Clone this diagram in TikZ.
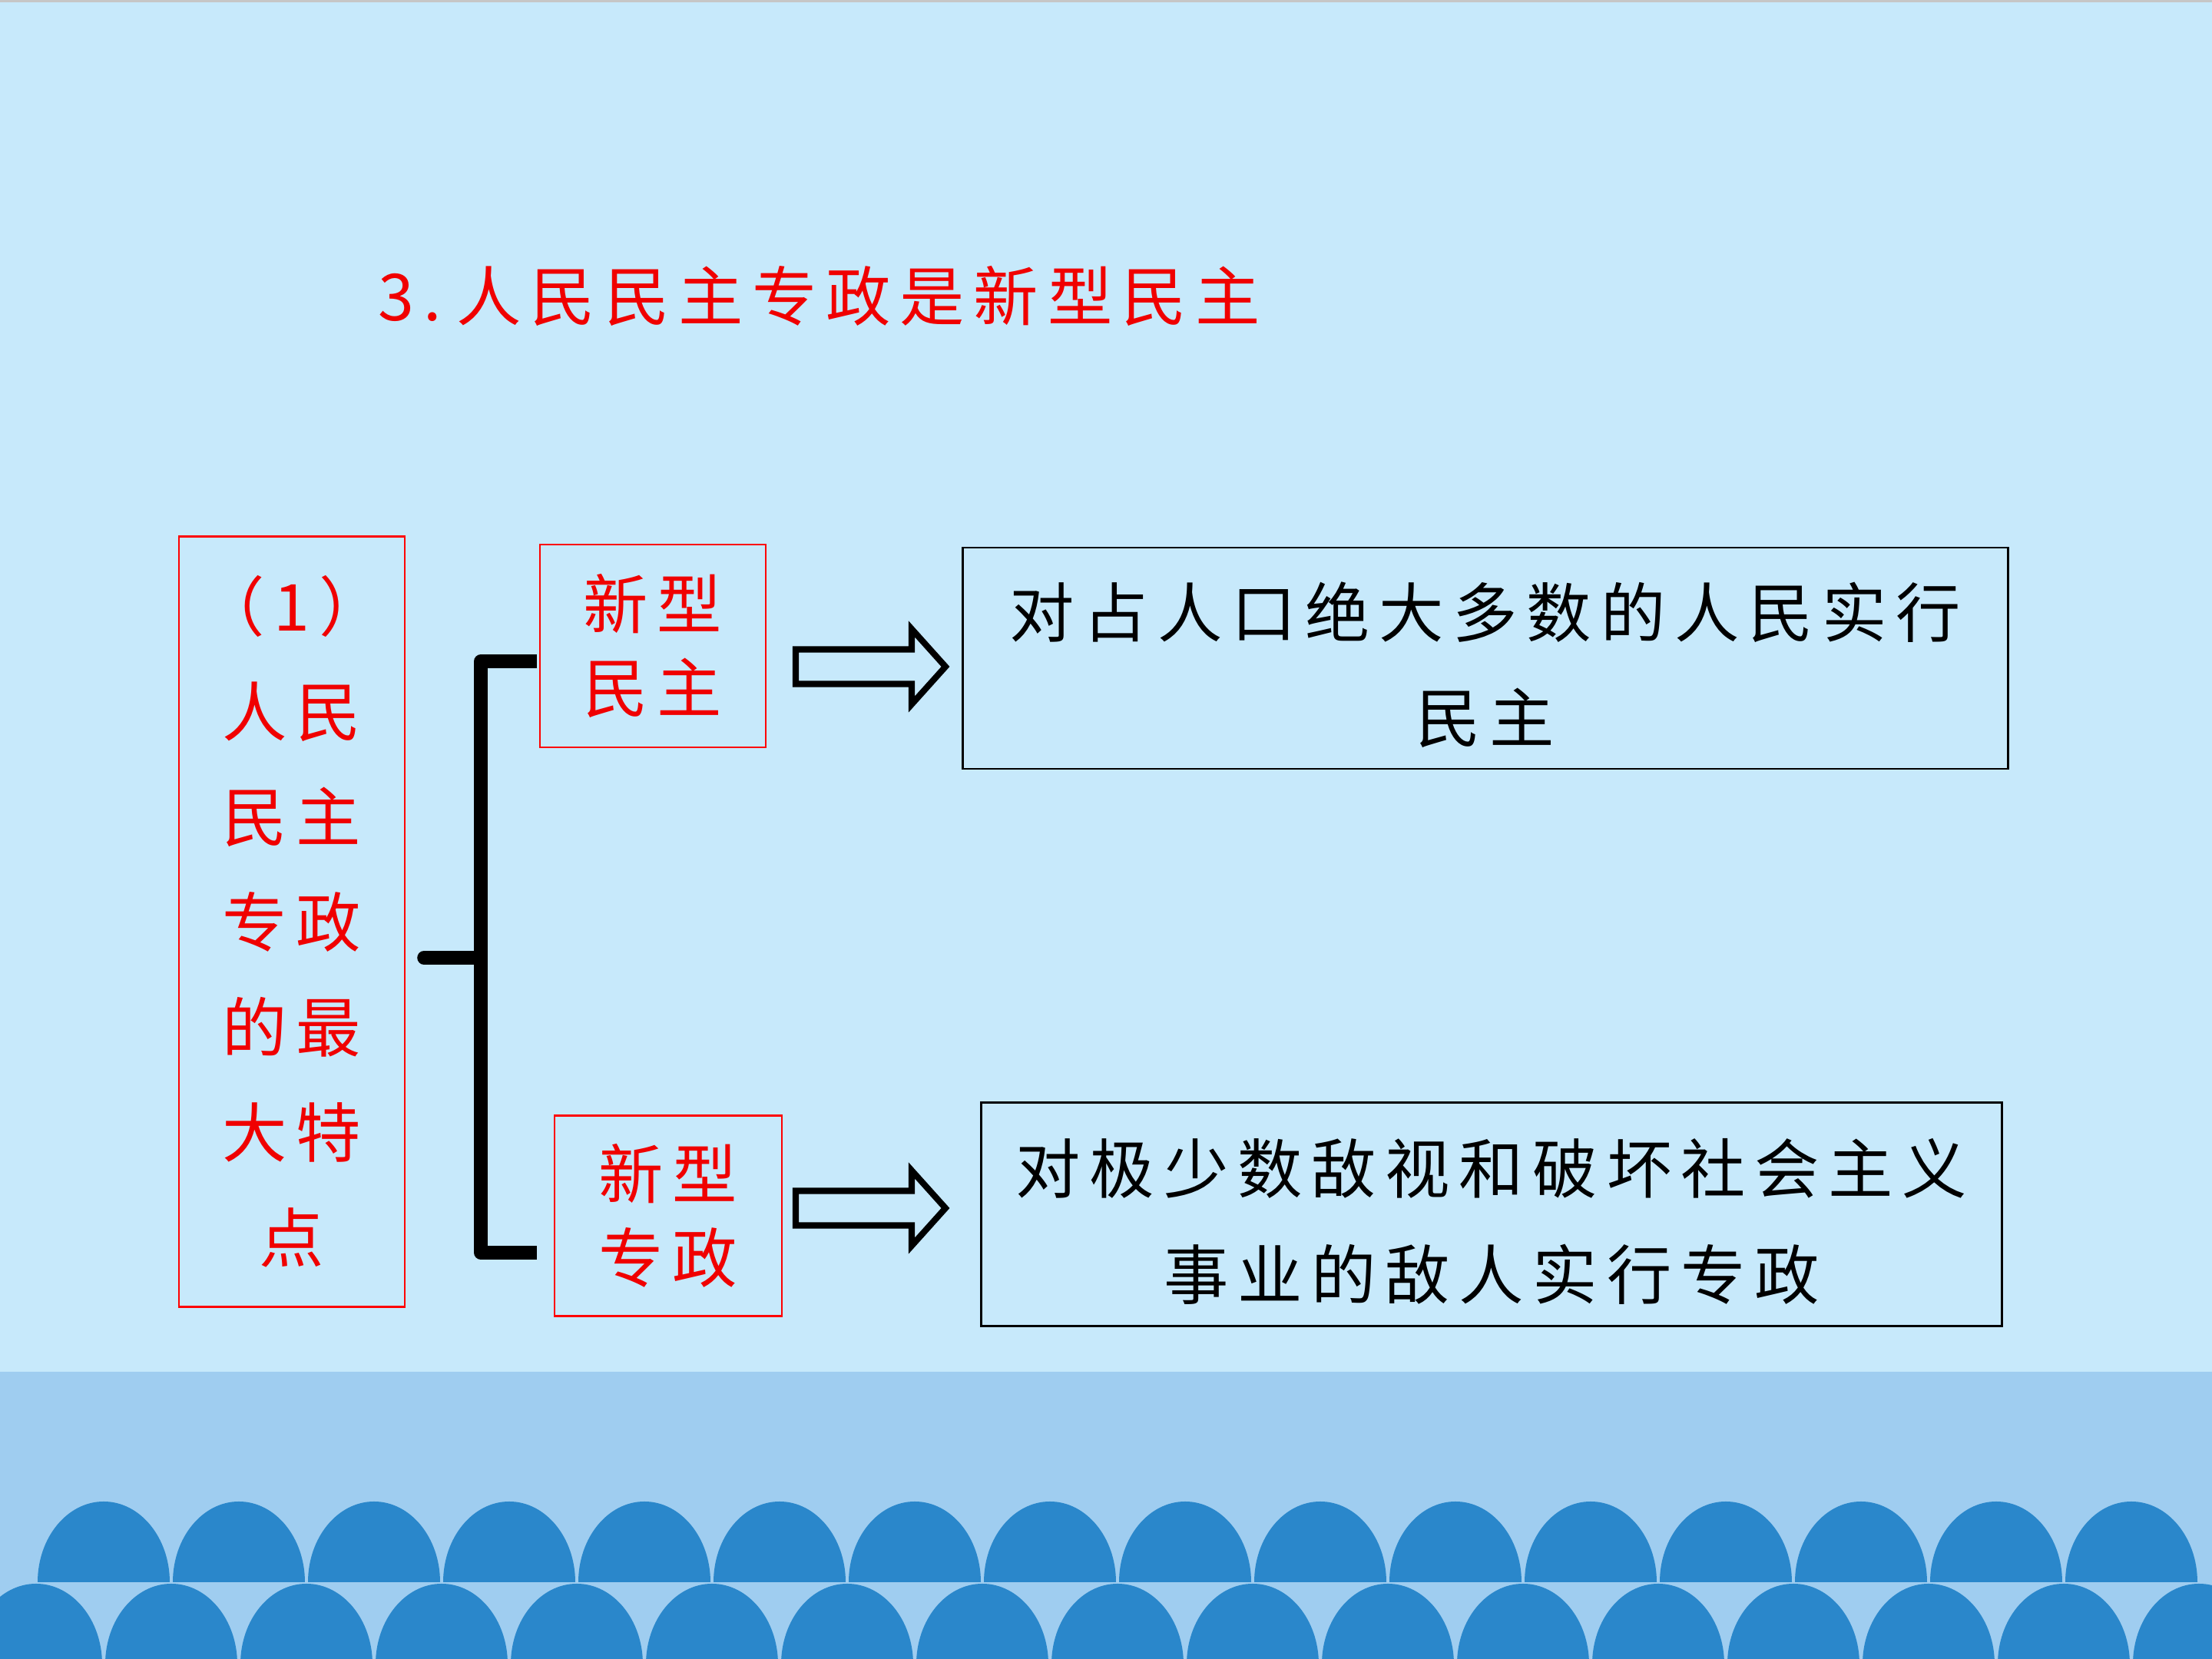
\documentclass[tikz,border=0pt]{standalone}
\usepackage{fontspec}
\newfontfamily\cjk{Noto Sans CJK SC}[LetterSpace=14]

\definecolor{bg_blue}{HTML}{C7E9FB}
\definecolor{band_blue}{HTML}{9FCDF0}
\definecolor{wave_blue}{HTML}{2A87CB}
\definecolor{title_red}{HTML}{F00000}

\begin{document}
\begin{tikzpicture}[
    kai_font/.style={font=\cjk\fontsize{24}{39}\selectfont},
    mid_font/.style={font=\cjk\fontsize{24}{31}\selectfont},
    red_box/.style={draw=red, line width=0.8pt, text=title_red, align=center, inner sep=0pt},
    black_box/.style={draw=black, line width=0.8pt, align=center, inner sep=0pt},
    brace_style/.style={line width=5pt, line join=round},
    stub_style/.style={line width=5pt, line cap=round},
    fat_arrow/.style={draw=black, line width=2.3pt, line join=miter}
  ]
  \useasboundingbox (0,0) rectangle (28.8,21.6);
  % background and waves
  \fill[bg_blue] (0,0) rectangle (28.8,21.6);
  \fill[gray!45] (0,21.57) rectangle (28.8,21.6);
  \fill[band_blue] (0,0) rectangle (28.8,3.74);
  \begin{scope}
    \clip (0,0) rectangle (28.8,21.6);
    \foreach \i in {0,...,15}
      \fill[wave_blue] (0.49+1.76*\i,1.00) arc[start angle=180, end angle=0, x radius=0.86, y radius=1.05] -- cycle;
    \foreach \i in {0,...,16}
      \fill[wave_blue] (-0.39+1.76*\i,-0.07) arc[start angle=180, end angle=0, x radius=0.86, y radius=1.05] -- cycle;
  \end{scope}

  \node[kai_font, text=title_red, anchor=west, inner sep=0pt] (title) at (4.92,17.74) {3.\kern0.2cm 人民民主专政是新型民主};

  \node[red_box, kai_font, minimum width=2.94cm, minimum height=10.03cm] (lbox) at (3.80,9.60)
    {（1）\\人民\\民主\\专政\\的最\\大特\\点};
  % Operations
  \node[red_box, mid_font, minimum width=2.94cm, minimum height=2.64cm] (nm) at (8.50,13.19) {新型\\民主};
  \node[red_box, mid_font, minimum width=2.96cm, minimum height=2.61cm] (nz) at (8.70,5.77) {新型\\专政};
  \node[black_box, kai_font, minimum width=13.61cm, minimum height=2.88cm] (rt) at (19.34,13.03)
    {\rule{0pt}{0.9cm}对占人口绝大多数的人民实行\\民主};
  \node[black_box, kai_font, minimum width=13.29cm, minimum height=2.91cm] (rb) at (19.42,5.79)
    {\rule{0pt}{0.9cm}对极少数敌视和破坏社会主义\\事业的敌人实行专政};

  % bracket
  \coordinate (btop) at (6.99,12.99);
  \coordinate (bbot) at (6.99,5.29);
  \coordinate (bmid) at (6.26,9.13);
  \coordinate (stub) at (5.52,9.13);
  \draw[brace_style] (btop) -| (bmid) |- (bbot);
  \draw[stub_style] (stub) -- (bmid);

  % block arrows
  \coordinate (a1) at (10.36,12.92);
  \coordinate (a2) at (10.36,5.87);
  \draw[fat_arrow] (a1) ++(0,0.225) -- ++(1.51,0) -- ++(0,0.265) -- ++(0.44,-0.49) -- ++(-0.44,-0.49) -- ++(0,0.265) -- ++(-1.51,0) -- cycle;
  \draw[fat_arrow] (a2) ++(0,0.225) -- ++(1.51,0) -- ++(0,0.265) -- ++(0.44,-0.49) -- ++(-0.44,-0.49) -- ++(0,0.265) -- ++(-1.51,0) -- cycle;
\end{tikzpicture}
\end{document}
